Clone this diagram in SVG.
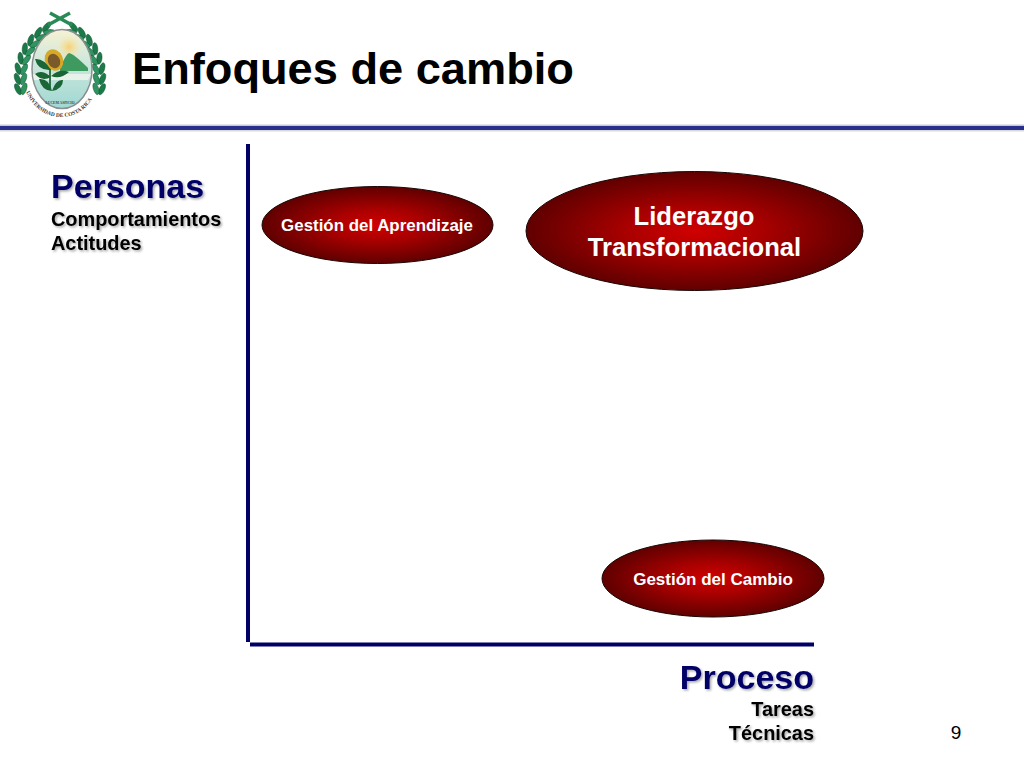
<svg xmlns="http://www.w3.org/2000/svg" width="1024" height="768" viewBox="0 0 1024 768">
<style>
text{font-family:"Liberation Sans",Arial,sans-serif;font-weight:bold}
.node{fill:url(#red);stroke:#1a0505;stroke-width:1}
.nl{fill:#fff;text-anchor:middle}
.axis{stroke:#000066;stroke-width:4;fill:none}
.head{fill:#000066;font-size:34px;filter:url(#sh)}
.sub{fill:#000;font-size:19.900px;filter:url(#sh)}
.la{fill:#1c7a48;stroke:#0c5030;stroke-width:.5}
.lb{fill:#2f9460;stroke:#0c5030;stroke-width:.5}
.serif{font-family:"Liberation Serif",serif}
</style>
<defs>
<radialGradient id="red" cx="50%" cy="50%" r="50%"><stop offset="0" stop-color="#d00000"/><stop offset=".4" stop-color="#aa0000"/><stop offset="1" stop-color="#600000"/></radialGradient>
<linearGradient id="sky" x1="0" y1="0" x2="0" y2="1"><stop offset="0" stop-color="#f6f2d4"/><stop offset=".4" stop-color="#cfe8dc"/><stop offset="1" stop-color="#9fd8d4"/></linearGradient>
<radialGradient id="sun"><stop offset="0" stop-color="#f8d070"/><stop offset="1" stop-color="#f8e8b0" stop-opacity="0"/></radialGradient>
<filter id="sh" x="-10%" y="-20%" width="120%" height="150%"><feDropShadow dx="1.5" dy="1.5" stdDeviation="1" flood-color="#000" flood-opacity=".35"/></filter>
<g id="pair">
<ellipse class="la" cx="-3" cy="0" rx="2.600" ry="6" transform="rotate(-22 -3 0)"/>
<ellipse class="lb" cx="3" cy="0" rx="2.600" ry="6" transform="rotate(22 3 0)"/>
</g>
<g id="side">
<use href="#pair" transform="translate(21 89) rotate(-4)"/>
<use href="#pair" transform="translate(20.500 79) rotate(0)"/>
<use href="#pair" transform="translate(21 69) rotate(6)"/>
<use href="#pair" transform="translate(23.500 59) rotate(16)"/>
<use href="#pair" transform="translate(27.500 50) rotate(27)"/>
<use href="#pair" transform="translate(33 42) rotate(40)"/>
<use href="#pair" transform="translate(40 35) rotate(52)"/>
<use href="#pair" transform="translate(48 29.500) rotate(62)"/>
</g>
<path id="ringtext" d="M26 92 C33 108 46 117 61 117 S89 108 96 92"/>
</defs>
<rect width="1024" height="768" fill="#fff"/>

<g id="logo">
<g id="wreath">
<use href="#side"/>
<use href="#side" transform="translate(120 0) scale(-1 1)"/>
<path d="M50 13 L72 25 M70 13 L48 25" stroke="#2a8a55" stroke-width="3.500"/>
</g>
<ellipse cx="62" cy="69" rx="30" ry="39.500" fill="url(#sky)" stroke="#8a8f8f" stroke-width="1.500"/>
<circle cx="69" cy="47" r="13" fill="url(#sun)"/>
<path d="M60 68 Q66 54 69 53 Q74 54 88 68 L88 71 L60 71Z" fill="#3f9a5f"/>
<path d="M33 74 H91 L88 80 H34Z" fill="#e8f2ea"/>
<path d="M50 62 V90" stroke="#1c6a35" stroke-width="1.800"/>
<ellipse cx="54" cy="60" rx="9" ry="11" fill="#d8a828" transform="rotate(-25 54 60)"/><ellipse cx="54" cy="61" rx="6" ry="7.500" fill="#7a5a2a" transform="rotate(-25 54 61)"/>
<path d="M51 70 Q44 58 35 59 Q38 71 51 70ZM51 77 Q42 69 35 74 Q42 82 51 77ZM52 91 Q49 78 39 79 Q42 91 52 91ZM51 76 Q60 68 69 72 Q60 80 51 76ZM52 91 Q56 79 63 80 Q63 89 52 91Z" fill="#1a6636"/>
<text class="serif" font-size="5.500" fill="#333"><textPath href="#ringtext">UNIVERSIDAD DE COSTA RICA</textPath></text>
<text class="serif" x="60" y="104" font-size="3.600" text-anchor="middle" fill="#444">LUCEM ASPICIO</text>
</g>

<text id="title" x="132" y="84" font-size="45.200" fill="#000">Enfoques de cambio</text>
<rect x="0" y="124.500" width="1024" height="1.500" fill="#c4c8dc"/>
<rect id="rule" x="0" y="126" width="1024" height="4" fill="#2a2f8a"/>
<rect x="0" y="130" width="1024" height="1.500" fill="#d6dadf"/>

<g id="connectors">
<path class="axis" d="M248 144 V642"/>
<path class="axis" d="M250 644.500 H814"/>
</g>

<g id="personas">
<text class="head" x="51" y="198">Personas</text>
<text class="sub" x="51" y="226">Comportamientos</text>
<text class="sub" x="51" y="250">Actitudes</text>
</g>
<g id="proceso">
<text class="head" x="814" y="689" text-anchor="end">Proceso</text>
<text class="sub" x="814" y="716" text-anchor="end">Tareas</text>
<text class="sub" x="814" y="740" text-anchor="end">Técnicas</text>
</g>

<g id="node-aprendizaje">
<ellipse class="node" cx="377.500" cy="225" rx="115.500" ry="38.500"/>
<text class="nl" x="377" y="231" font-size="16.900">Gestión del Aprendizaje</text>
</g>
<g id="node-liderazgo">
<ellipse class="node" cx="694.500" cy="231" rx="168.500" ry="59.500"/>
<text class="nl" x="694" y="225" font-size="25.600">Liderazgo</text>
<text class="nl" x="694.500" y="256" font-size="25.600">Transformacional</text>
</g>
<g id="node-cambio">
<ellipse class="node" cx="713" cy="578.500" rx="111" ry="38.500"/>
<text class="nl" x="713" y="585" font-size="17">Gestión del Cambio</text>
</g>
<text id="page" x="956" y="739" font-size="19" text-anchor="middle" fill="#000" style="font-weight:normal">9</text>
</svg>
